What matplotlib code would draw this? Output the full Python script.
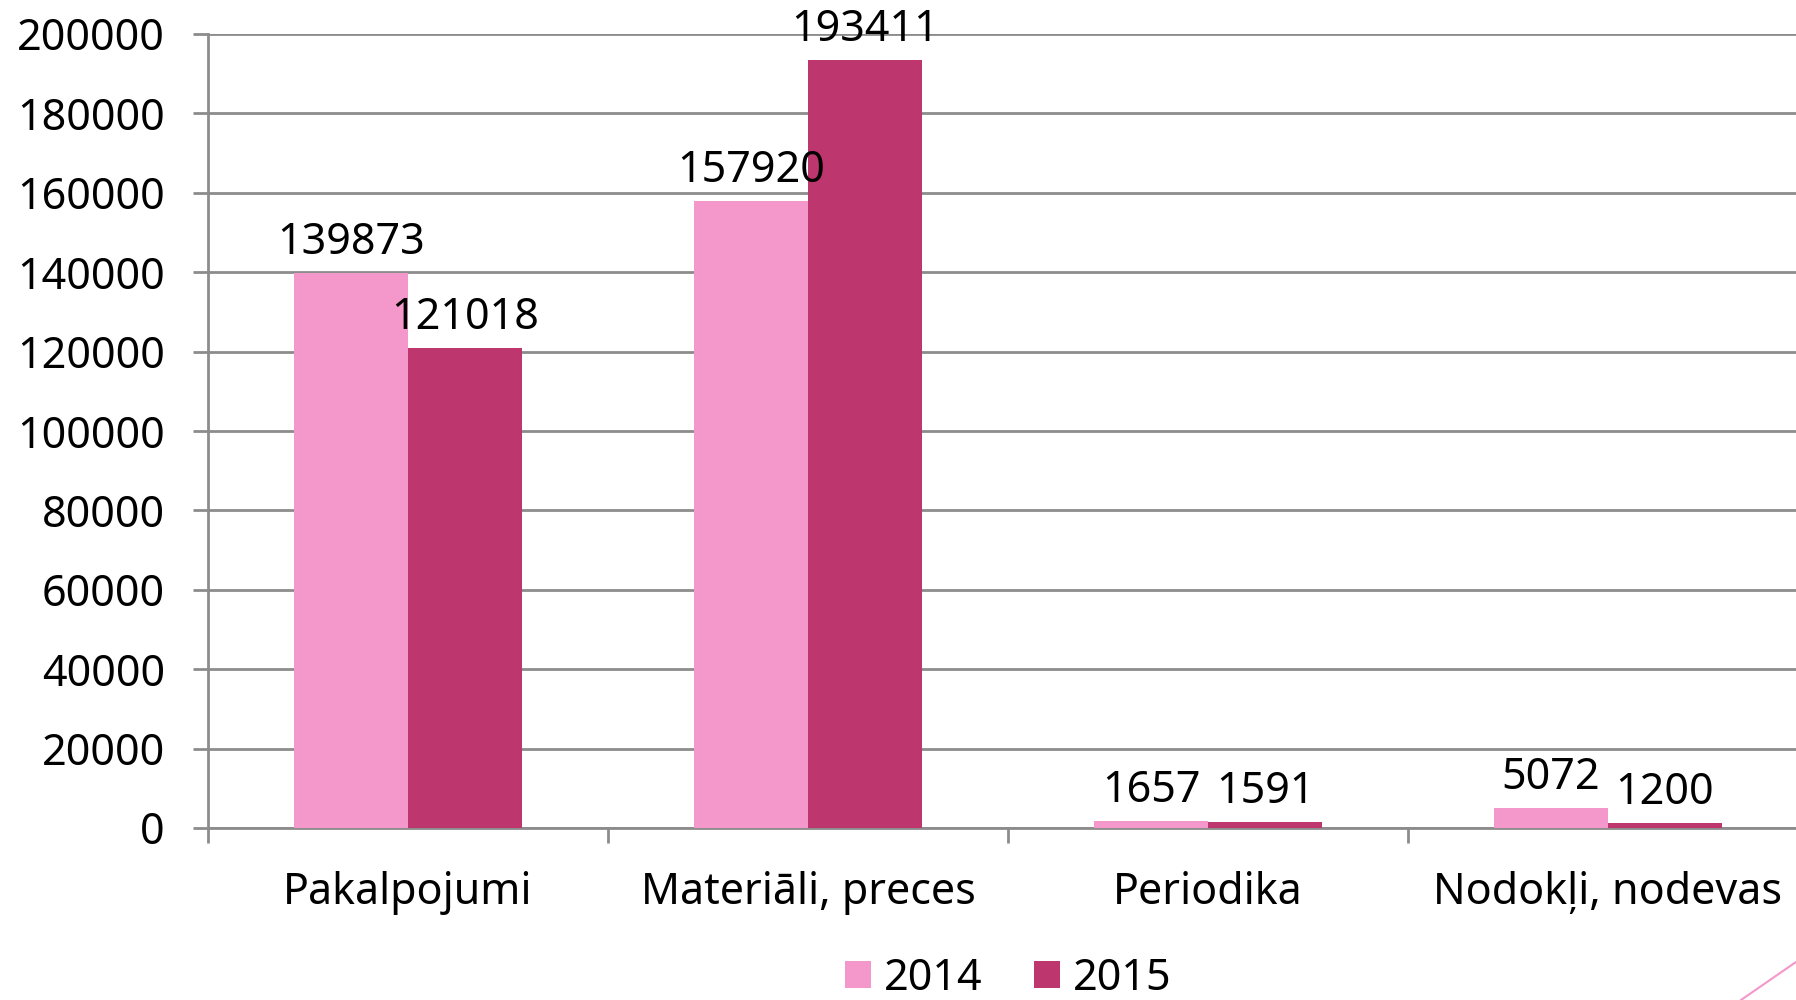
import numpy as np
import matplotlib.pyplot as plt
from matplotlib.lines import Line2D

plt.rcParams['font.family'] = ['Noto Sans', 'DejaVu Sans']

categories = ["Pakalpojumi", "Materiāli, preces", "Periodika", "Nodokļi, nodevas"]
years = ["2014", "2015"]
values_2014 = [139873, 157920, 1657, 5072]
values_2015 = [121018, 193411, 1591, 1200]

col_2014 = "#F497CA"
col_2015 = "#BE366E"
grid_col = "#8C8C8C"

fig = plt.figure(figsize=(17.96, 10), dpi=100)
# axes run a bit past the right edge, as in the original slide
ax = fig.add_axes([208 / 1796, 0.172, 1600 / 1796, 0.794])

x = np.arange(len(categories))
w = 0.285
b1 = ax.bar(x - w / 2, values_2014, w, color=col_2014, label=years[0], zorder=3)
b2 = ax.bar(x + w / 2, values_2015, w, color=col_2015, label=years[1], zorder=3)

for bars in (b1, b2):
    for rect in bars:
        h = rect.get_height()
        ax.text(rect.get_x() + rect.get_width() / 2, h + 2000, str(int(h)),
                ha='center', va='bottom', fontsize=31, color='black', zorder=4)

ax.set_xlim(-0.5, len(categories) - 0.5)
ax.set_ylim(0, 200000)
ax.set_yticks(np.arange(0, 200001, 20000))
ax.set_yticklabels([str(v) for v in range(0, 200001, 20000)], fontsize=31)
ax.yaxis.grid(True, color=grid_col, linewidth=2, zorder=0)

ax.set_xticks(x)
ax.set_xticklabels(categories, fontsize=31)
ax.set_xticks(np.arange(-0.5, len(categories)), minor=True)
ax.tick_params(axis='x', which='major', length=0, pad=31)
ax.tick_params(axis='x', which='minor', length=11, width=2, color=grid_col)
ax.tick_params(axis='y', length=11, width=2, color=grid_col, pad=20)

for s in ['top', 'right']:
    ax.spines[s].set_visible(False)
for s in ['left', 'bottom']:
    ax.spines[s].set_color(grid_col)
    ax.spines[s].set_linewidth(2)

ax.legend(loc='center', bbox_to_anchor=(0.5, -0.19), ncol=2, frameon=False,
          fontsize=31, handlelength=0.6, handleheight=0.6, handletextpad=0.3,
          columnspacing=1.2)

# thin decorative line at bottom-right of the slide
fig.add_artist(Line2D([1741 / 1796, 1.0], [0.0, 0.038], color=col_2014, linewidth=1.5))

fig.savefig("out.png", dpi=100)
